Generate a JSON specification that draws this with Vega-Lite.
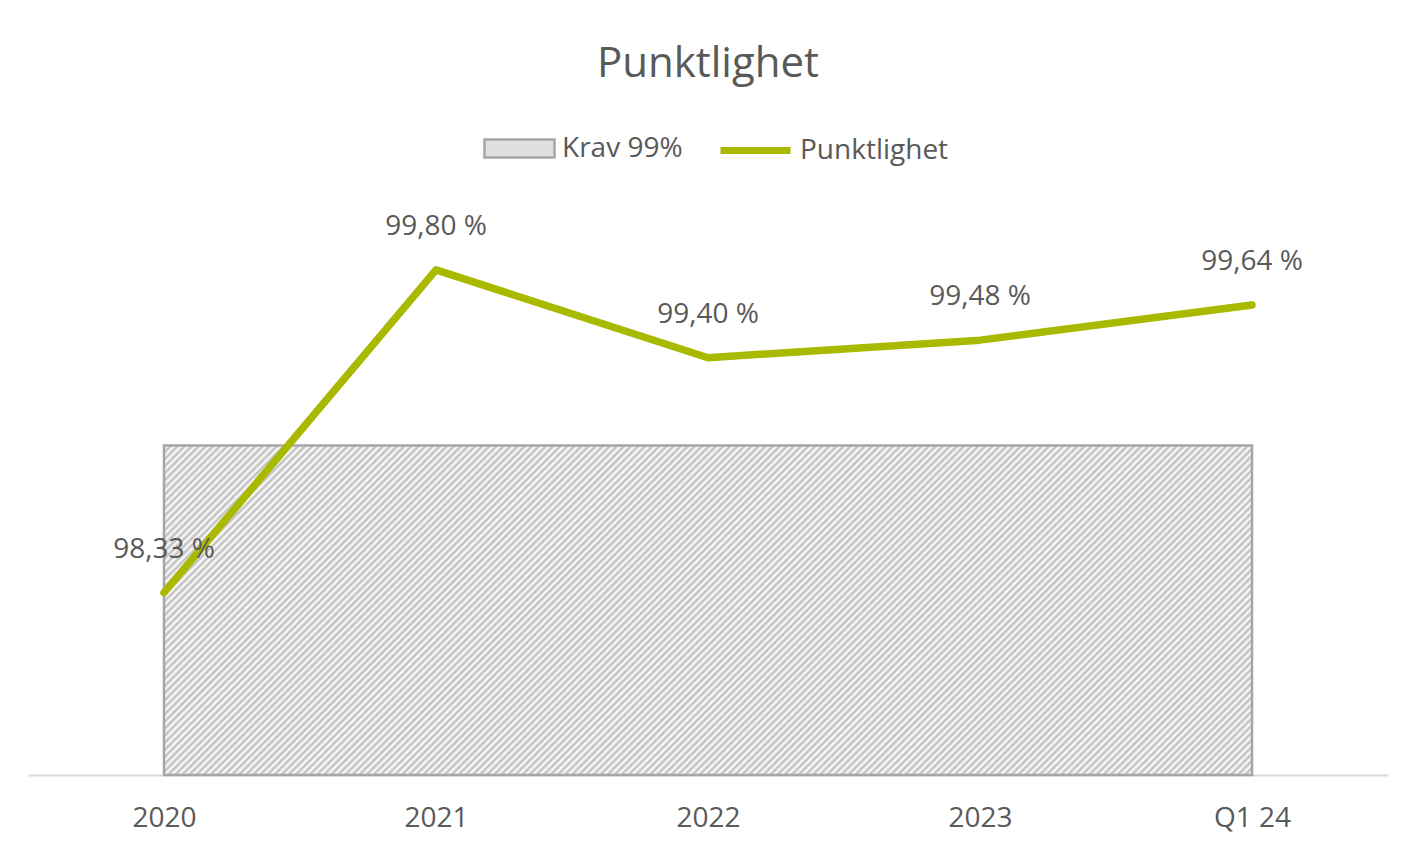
{
  "$schema": "https://vega.github.io/schema/vega-lite/v6.json",
  "width": 1360,
  "height": 593,
  "autosize": "none",
  "padding": {"left": 28, "top": 182, "right": 32, "bottom": 73},
  "background": "white",
  "title": {"text": "Punktlighet", "font": "Open Sans", "fontSize": 42, "fontWeight": "normal", "color": "#595959", "anchor": "middle", "baseline": "alphabetic", "offset": -7},
  "data": {"values": [
    {"periode": "2020", "punktlighet": 98.33, "krav": 99},
    {"periode": "2021", "punktlighet": 99.80, "krav": 99},
    {"periode": "2022", "punktlighet": 99.40, "krav": 99},
    {"periode": "2023", "punktlighet": 99.48, "krav": 99},
    {"periode": "Q1 24", "punktlighet": 99.64, "krav": 99}
  ]},
  "transform": [{"calculate": "replace(format(datum.punktlighet, '.2f'), '.', ',') + ' %'", "as": "label"}],
  "encoding": {
    "x": {"field": "periode", "type": "ordinal", "sort": null, "scale": {"type": "point", "padding": 0.5},
      "axis": {"title": null, "labelAngle": 0, "labelFont": "Open Sans", "labelFontSize": 28, "labelColor": "#595959", "domainColor": "#d9d9d9", "domainWidth": 2, "ticks": false, "labelBaseline": "middle", "labelPadding": 43, "grid": false}}
  },
  "layer": [
    {"mark": {"type": "area"},
     "encoding": {
       "y": {"field": "krav", "type": "quantitative", "scale": {"domain": [97.5, 100.2], "zero": false, "nice": false}, "axis": null},
       "y2": {"datum": 97.5},
       "fill": {"datum": "Krav 99%", "type": "nominal",
         "scale": {"domain": ["Krav 99%"], "range": ["#e0e0e0"]},
         "legend": {"orient": "none", "legendX": 455, "legendY": -70, "direction": "horizontal", "title": null, "padding": 0,
           "labelFont": "Open Sans", "labelFontSize": 28, "labelColor": "#595959", "symbolSize": 4900, "labelOffset": 6,
           "symbolType": "M-1,-0.26H1V0.26H-1Z", "symbolStrokeColor": "#a6a6a6", "symbolStrokeWidth": 2.5, "symbolOpacity": 1}}
     }},
    {"mark": {"type": "area", "stroke": "#a6a6a6", "strokeWidth": 2.5,
      "fill": {"gradient": "linear", "x1": 0, "y1": 0, "x2": 1.1933, "y2": 0.361, "stops": [
{"offset":0,"color":"#bbb"},{"offset":0.0025,"color":"#fff"},{"offset":0.005,"color":"#bbb"},{"offset":0.0075,"color":"#fff"},
{"offset":0.01,"color":"#bbb"},{"offset":0.0125,"color":"#fff"},{"offset":0.015,"color":"#bbb"},{"offset":0.0175,"color":"#fff"},
{"offset":0.02,"color":"#bbb"},{"offset":0.0225,"color":"#fff"},{"offset":0.025,"color":"#bbb"},{"offset":0.0275,"color":"#fff"},
{"offset":0.03,"color":"#bbb"},{"offset":0.0325,"color":"#fff"},{"offset":0.035,"color":"#bbb"},{"offset":0.0375,"color":"#fff"},
{"offset":0.04,"color":"#bbb"},{"offset":0.0425,"color":"#fff"},{"offset":0.045,"color":"#bbb"},{"offset":0.0475,"color":"#fff"},
{"offset":0.05,"color":"#bbb"},{"offset":0.0525,"color":"#fff"},{"offset":0.055,"color":"#bbb"},{"offset":0.0575,"color":"#fff"},
{"offset":0.06,"color":"#bbb"},{"offset":0.0625,"color":"#fff"},{"offset":0.065,"color":"#bbb"},{"offset":0.0675,"color":"#fff"},
{"offset":0.07,"color":"#bbb"},{"offset":0.0725,"color":"#fff"},{"offset":0.075,"color":"#bbb"},{"offset":0.0775,"color":"#fff"},
{"offset":0.08,"color":"#bbb"},{"offset":0.0825,"color":"#fff"},{"offset":0.085,"color":"#bbb"},{"offset":0.0875,"color":"#fff"},
{"offset":0.09,"color":"#bbb"},{"offset":0.0925,"color":"#fff"},{"offset":0.095,"color":"#bbb"},{"offset":0.0975,"color":"#fff"},
{"offset":0.10,"color":"#bbb"},{"offset":0.1025,"color":"#fff"},{"offset":0.105,"color":"#bbb"},{"offset":0.1075,"color":"#fff"},
{"offset":0.11,"color":"#bbb"},{"offset":0.1125,"color":"#fff"},{"offset":0.115,"color":"#bbb"},{"offset":0.1175,"color":"#fff"},
{"offset":0.12,"color":"#bbb"},{"offset":0.1225,"color":"#fff"},{"offset":0.125,"color":"#bbb"},{"offset":0.1275,"color":"#fff"},
{"offset":0.13,"color":"#bbb"},{"offset":0.1325,"color":"#fff"},{"offset":0.135,"color":"#bbb"},{"offset":0.1375,"color":"#fff"},
{"offset":0.14,"color":"#bbb"},{"offset":0.1425,"color":"#fff"},{"offset":0.145,"color":"#bbb"},{"offset":0.1475,"color":"#fff"},
{"offset":0.15,"color":"#bbb"},{"offset":0.1525,"color":"#fff"},{"offset":0.155,"color":"#bbb"},{"offset":0.1575,"color":"#fff"},
{"offset":0.16,"color":"#bbb"},{"offset":0.1625,"color":"#fff"},{"offset":0.165,"color":"#bbb"},{"offset":0.1675,"color":"#fff"},
{"offset":0.17,"color":"#bbb"},{"offset":0.1725,"color":"#fff"},{"offset":0.175,"color":"#bbb"},{"offset":0.1775,"color":"#fff"},
{"offset":0.18,"color":"#bbb"},{"offset":0.1825,"color":"#fff"},{"offset":0.185,"color":"#bbb"},{"offset":0.1875,"color":"#fff"},
{"offset":0.19,"color":"#bbb"},{"offset":0.1925,"color":"#fff"},{"offset":0.195,"color":"#bbb"},{"offset":0.1975,"color":"#fff"},
{"offset":0.20,"color":"#bbb"},{"offset":0.2025,"color":"#fff"},{"offset":0.205,"color":"#bbb"},{"offset":0.2075,"color":"#fff"},
{"offset":0.21,"color":"#bbb"},{"offset":0.2125,"color":"#fff"},{"offset":0.215,"color":"#bbb"},{"offset":0.2175,"color":"#fff"},
{"offset":0.22,"color":"#bbb"},{"offset":0.2225,"color":"#fff"},{"offset":0.225,"color":"#bbb"},{"offset":0.2275,"color":"#fff"},
{"offset":0.23,"color":"#bbb"},{"offset":0.2325,"color":"#fff"},{"offset":0.235,"color":"#bbb"},{"offset":0.2375,"color":"#fff"},
{"offset":0.24,"color":"#bbb"},{"offset":0.2425,"color":"#fff"},{"offset":0.245,"color":"#bbb"},{"offset":0.2475,"color":"#fff"},
{"offset":0.25,"color":"#bbb"},{"offset":0.2525,"color":"#fff"},{"offset":0.255,"color":"#bbb"},{"offset":0.2575,"color":"#fff"},
{"offset":0.26,"color":"#bbb"},{"offset":0.2625,"color":"#fff"},{"offset":0.265,"color":"#bbb"},{"offset":0.2675,"color":"#fff"},
{"offset":0.27,"color":"#bbb"},{"offset":0.2725,"color":"#fff"},{"offset":0.275,"color":"#bbb"},{"offset":0.2775,"color":"#fff"},
{"offset":0.28,"color":"#bbb"},{"offset":0.2825,"color":"#fff"},{"offset":0.285,"color":"#bbb"},{"offset":0.2875,"color":"#fff"},
{"offset":0.29,"color":"#bbb"},{"offset":0.2925,"color":"#fff"},{"offset":0.295,"color":"#bbb"},{"offset":0.2975,"color":"#fff"},
{"offset":0.30,"color":"#bbb"},{"offset":0.3025,"color":"#fff"},{"offset":0.305,"color":"#bbb"},{"offset":0.3075,"color":"#fff"},
{"offset":0.31,"color":"#bbb"},{"offset":0.3125,"color":"#fff"},{"offset":0.315,"color":"#bbb"},{"offset":0.3175,"color":"#fff"},
{"offset":0.32,"color":"#bbb"},{"offset":0.3225,"color":"#fff"},{"offset":0.325,"color":"#bbb"},{"offset":0.3275,"color":"#fff"},
{"offset":0.33,"color":"#bbb"},{"offset":0.3325,"color":"#fff"},{"offset":0.335,"color":"#bbb"},{"offset":0.3375,"color":"#fff"},
{"offset":0.34,"color":"#bbb"},{"offset":0.3425,"color":"#fff"},{"offset":0.345,"color":"#bbb"},{"offset":0.3475,"color":"#fff"},
{"offset":0.35,"color":"#bbb"},{"offset":0.3525,"color":"#fff"},{"offset":0.355,"color":"#bbb"},{"offset":0.3575,"color":"#fff"},
{"offset":0.36,"color":"#bbb"},{"offset":0.3625,"color":"#fff"},{"offset":0.365,"color":"#bbb"},{"offset":0.3675,"color":"#fff"},
{"offset":0.37,"color":"#bbb"},{"offset":0.3725,"color":"#fff"},{"offset":0.375,"color":"#bbb"},{"offset":0.3775,"color":"#fff"},
{"offset":0.38,"color":"#bbb"},{"offset":0.3825,"color":"#fff"},{"offset":0.385,"color":"#bbb"},{"offset":0.3875,"color":"#fff"},
{"offset":0.39,"color":"#bbb"},{"offset":0.3925,"color":"#fff"},{"offset":0.395,"color":"#bbb"},{"offset":0.3975,"color":"#fff"},
{"offset":0.40,"color":"#bbb"},{"offset":0.4025,"color":"#fff"},{"offset":0.405,"color":"#bbb"},{"offset":0.4075,"color":"#fff"},
{"offset":0.41,"color":"#bbb"},{"offset":0.4125,"color":"#fff"},{"offset":0.415,"color":"#bbb"},{"offset":0.4175,"color":"#fff"},
{"offset":0.42,"color":"#bbb"},{"offset":0.4225,"color":"#fff"},{"offset":0.425,"color":"#bbb"},{"offset":0.4275,"color":"#fff"},
{"offset":0.43,"color":"#bbb"},{"offset":0.4325,"color":"#fff"},{"offset":0.435,"color":"#bbb"},{"offset":0.4375,"color":"#fff"},
{"offset":0.44,"color":"#bbb"},{"offset":0.4425,"color":"#fff"},{"offset":0.445,"color":"#bbb"},{"offset":0.4475,"color":"#fff"},
{"offset":0.45,"color":"#bbb"},{"offset":0.4525,"color":"#fff"},{"offset":0.455,"color":"#bbb"},{"offset":0.4575,"color":"#fff"},
{"offset":0.46,"color":"#bbb"},{"offset":0.4625,"color":"#fff"},{"offset":0.465,"color":"#bbb"},{"offset":0.4675,"color":"#fff"},
{"offset":0.47,"color":"#bbb"},{"offset":0.4725,"color":"#fff"},{"offset":0.475,"color":"#bbb"},{"offset":0.4775,"color":"#fff"},
{"offset":0.48,"color":"#bbb"},{"offset":0.4825,"color":"#fff"},{"offset":0.485,"color":"#bbb"},{"offset":0.4875,"color":"#fff"},
{"offset":0.49,"color":"#bbb"},{"offset":0.4925,"color":"#fff"},{"offset":0.495,"color":"#bbb"},{"offset":0.4975,"color":"#fff"},
{"offset":0.50,"color":"#bbb"},{"offset":0.5025,"color":"#fff"},{"offset":0.505,"color":"#bbb"},{"offset":0.5075,"color":"#fff"},
{"offset":0.51,"color":"#bbb"},{"offset":0.5125,"color":"#fff"},{"offset":0.515,"color":"#bbb"},{"offset":0.5175,"color":"#fff"},
{"offset":0.52,"color":"#bbb"},{"offset":0.5225,"color":"#fff"},{"offset":0.525,"color":"#bbb"},{"offset":0.5275,"color":"#fff"},
{"offset":0.53,"color":"#bbb"},{"offset":0.5325,"color":"#fff"},{"offset":0.535,"color":"#bbb"},{"offset":0.5375,"color":"#fff"},
{"offset":0.54,"color":"#bbb"},{"offset":0.5425,"color":"#fff"},{"offset":0.545,"color":"#bbb"},{"offset":0.5475,"color":"#fff"},
{"offset":0.55,"color":"#bbb"},{"offset":0.5525,"color":"#fff"},{"offset":0.555,"color":"#bbb"},{"offset":0.5575,"color":"#fff"},
{"offset":0.56,"color":"#bbb"},{"offset":0.5625,"color":"#fff"},{"offset":0.565,"color":"#bbb"},{"offset":0.5675,"color":"#fff"},
{"offset":0.57,"color":"#bbb"},{"offset":0.5725,"color":"#fff"},{"offset":0.575,"color":"#bbb"},{"offset":0.5775,"color":"#fff"},
{"offset":0.58,"color":"#bbb"},{"offset":0.5825,"color":"#fff"},{"offset":0.585,"color":"#bbb"},{"offset":0.5875,"color":"#fff"},
{"offset":0.59,"color":"#bbb"},{"offset":0.5925,"color":"#fff"},{"offset":0.595,"color":"#bbb"},{"offset":0.5975,"color":"#fff"},
{"offset":0.60,"color":"#bbb"},{"offset":0.6025,"color":"#fff"},{"offset":0.605,"color":"#bbb"},{"offset":0.6075,"color":"#fff"},
{"offset":0.61,"color":"#bbb"},{"offset":0.6125,"color":"#fff"},{"offset":0.615,"color":"#bbb"},{"offset":0.6175,"color":"#fff"},
{"offset":0.62,"color":"#bbb"},{"offset":0.6225,"color":"#fff"},{"offset":0.625,"color":"#bbb"},{"offset":0.6275,"color":"#fff"},
{"offset":0.63,"color":"#bbb"},{"offset":0.6325,"color":"#fff"},{"offset":0.635,"color":"#bbb"},{"offset":0.6375,"color":"#fff"},
{"offset":0.64,"color":"#bbb"},{"offset":0.6425,"color":"#fff"},{"offset":0.645,"color":"#bbb"},{"offset":0.6475,"color":"#fff"},
{"offset":0.65,"color":"#bbb"},{"offset":0.6525,"color":"#fff"},{"offset":0.655,"color":"#bbb"},{"offset":0.6575,"color":"#fff"},
{"offset":0.66,"color":"#bbb"},{"offset":0.6625,"color":"#fff"},{"offset":0.665,"color":"#bbb"},{"offset":0.6675,"color":"#fff"},
{"offset":0.67,"color":"#bbb"},{"offset":0.6725,"color":"#fff"},{"offset":0.675,"color":"#bbb"},{"offset":0.6775,"color":"#fff"},
{"offset":0.68,"color":"#bbb"},{"offset":0.6825,"color":"#fff"},{"offset":0.685,"color":"#bbb"},{"offset":0.6875,"color":"#fff"},
{"offset":0.69,"color":"#bbb"},{"offset":0.6925,"color":"#fff"},{"offset":0.695,"color":"#bbb"},{"offset":0.6975,"color":"#fff"},
{"offset":0.70,"color":"#bbb"},{"offset":0.7025,"color":"#fff"},{"offset":0.705,"color":"#bbb"},{"offset":0.7075,"color":"#fff"},
{"offset":0.71,"color":"#bbb"},{"offset":0.7125,"color":"#fff"},{"offset":0.715,"color":"#bbb"},{"offset":0.7175,"color":"#fff"},
{"offset":0.72,"color":"#bbb"},{"offset":0.7225,"color":"#fff"},{"offset":0.725,"color":"#bbb"},{"offset":0.7275,"color":"#fff"},
{"offset":0.73,"color":"#bbb"},{"offset":0.7325,"color":"#fff"},{"offset":0.735,"color":"#bbb"},{"offset":0.7375,"color":"#fff"},
{"offset":0.74,"color":"#bbb"},{"offset":0.7425,"color":"#fff"},{"offset":0.745,"color":"#bbb"},{"offset":0.7475,"color":"#fff"},
{"offset":0.75,"color":"#bbb"},{"offset":0.7525,"color":"#fff"},{"offset":0.755,"color":"#bbb"},{"offset":0.7575,"color":"#fff"},
{"offset":0.76,"color":"#bbb"},{"offset":0.7625,"color":"#fff"},{"offset":0.765,"color":"#bbb"},{"offset":0.7675,"color":"#fff"},
{"offset":0.77,"color":"#bbb"},{"offset":0.7725,"color":"#fff"},{"offset":0.775,"color":"#bbb"},{"offset":0.7775,"color":"#fff"},
{"offset":0.78,"color":"#bbb"},{"offset":0.7825,"color":"#fff"},{"offset":0.785,"color":"#bbb"},{"offset":0.7875,"color":"#fff"},
{"offset":0.79,"color":"#bbb"},{"offset":0.7925,"color":"#fff"},{"offset":0.795,"color":"#bbb"},{"offset":0.7975,"color":"#fff"},
{"offset":0.80,"color":"#bbb"},{"offset":0.8025,"color":"#fff"},{"offset":0.805,"color":"#bbb"},{"offset":0.8075,"color":"#fff"},
{"offset":0.81,"color":"#bbb"},{"offset":0.8125,"color":"#fff"},{"offset":0.815,"color":"#bbb"},{"offset":0.8175,"color":"#fff"},
{"offset":0.82,"color":"#bbb"},{"offset":0.8225,"color":"#fff"},{"offset":0.825,"color":"#bbb"},{"offset":0.8275,"color":"#fff"},
{"offset":0.83,"color":"#bbb"},{"offset":0.8325,"color":"#fff"},{"offset":0.835,"color":"#bbb"},{"offset":0.8375,"color":"#fff"},
{"offset":0.84,"color":"#bbb"},{"offset":0.8425,"color":"#fff"},{"offset":0.845,"color":"#bbb"},{"offset":0.8475,"color":"#fff"},
{"offset":0.85,"color":"#bbb"},{"offset":0.8525,"color":"#fff"},{"offset":0.855,"color":"#bbb"},{"offset":0.8575,"color":"#fff"},
{"offset":0.86,"color":"#bbb"},{"offset":0.8625,"color":"#fff"},{"offset":0.865,"color":"#bbb"},{"offset":0.8675,"color":"#fff"},
{"offset":0.87,"color":"#bbb"},{"offset":0.8725,"color":"#fff"},{"offset":0.875,"color":"#bbb"},{"offset":0.8775,"color":"#fff"},
{"offset":0.88,"color":"#bbb"},{"offset":0.8825,"color":"#fff"},{"offset":0.885,"color":"#bbb"},{"offset":0.8875,"color":"#fff"},
{"offset":0.89,"color":"#bbb"},{"offset":0.8925,"color":"#fff"},{"offset":0.895,"color":"#bbb"},{"offset":0.8975,"color":"#fff"},
{"offset":0.90,"color":"#bbb"},{"offset":0.9025,"color":"#fff"},{"offset":0.905,"color":"#bbb"},{"offset":0.9075,"color":"#fff"},
{"offset":0.91,"color":"#bbb"},{"offset":0.9125,"color":"#fff"},{"offset":0.915,"color":"#bbb"},{"offset":0.9175,"color":"#fff"},
{"offset":0.92,"color":"#bbb"},{"offset":0.9225,"color":"#fff"},{"offset":0.925,"color":"#bbb"},{"offset":0.9275,"color":"#fff"},
{"offset":0.93,"color":"#bbb"},{"offset":0.9325,"color":"#fff"},{"offset":0.935,"color":"#bbb"},{"offset":0.9375,"color":"#fff"},
{"offset":0.94,"color":"#bbb"},{"offset":0.9425,"color":"#fff"},{"offset":0.945,"color":"#bbb"},{"offset":0.9475,"color":"#fff"},
{"offset":0.95,"color":"#bbb"},{"offset":0.9525,"color":"#fff"},{"offset":0.955,"color":"#bbb"},{"offset":0.9575,"color":"#fff"},
{"offset":0.96,"color":"#bbb"},{"offset":0.9625,"color":"#fff"},{"offset":0.965,"color":"#bbb"},{"offset":0.9675,"color":"#fff"},
{"offset":0.97,"color":"#bbb"},{"offset":0.9725,"color":"#fff"},{"offset":0.975,"color":"#bbb"},{"offset":0.9775,"color":"#fff"},
{"offset":0.98,"color":"#bbb"},{"offset":0.9825,"color":"#fff"},{"offset":0.985,"color":"#bbb"},{"offset":0.9875,"color":"#fff"},
{"offset":0.99,"color":"#bbb"},{"offset":0.9925,"color":"#fff"},{"offset":0.995,"color":"#bbb"},{"offset":0.9975,"color":"#fff"},
{"offset":1,"color":"#bbb"}
      ]}},
     "encoding": {"y": {"field": "krav", "type": "quantitative"}, "y2": {"datum": 97.5}}},
    {"mark": {"type": "line", "strokeWidth": 7.5, "strokeCap": "round", "strokeJoin": "round"},
     "encoding": {
       "y": {"field": "punktlighet", "type": "quantitative"},
       "stroke": {"datum": "Punktlighet", "type": "nominal",
         "scale": {"domain": ["Punktlighet"], "range": ["#a8b900"]},
         "legend": {"orient": "none", "legendX": 689, "legendY": -70, "direction": "horizontal", "title": null, "padding": 0,
           "labelFont": "Open Sans", "labelFontSize": 28, "labelColor": "#595959", "symbolSize": 4900, "labelOffset": 6,
           "symbolType": "stroke", "symbolStrokeWidth": 7, "symbolOpacity": 1}}
     }},
    {"mark": {"type": "text", "dy": -43, "baseline": "middle", "align": "center", "font": "Open Sans", "fontSize": 28, "color": "#595959"},
     "encoding": {
       "y": {"field": "punktlighet", "type": "quantitative"},
       "text": {"field": "label", "type": "nominal"}
     }}
  ],
  "config": {"view": {"stroke": null}}
}
